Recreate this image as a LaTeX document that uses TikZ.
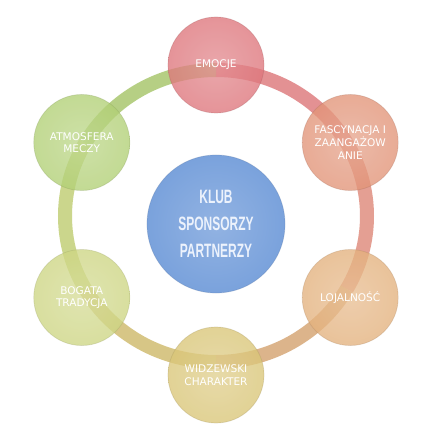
\documentclass[tikz,border=0pt]{standalone}
\usepackage{fontspec}
\newfontfamily\labelfont{DejaVu Sans}
\newfontfamily\centerfont[FakeStretch=0.62]{Liberation Sans}
\usepackage{tikz}
\usetikzlibrary{calc}
\definecolor{emocje}{RGB}{222,118,124}
\definecolor{fascyn}{RGB}{226,148,120}
\definecolor{lojal}{RGB}{228,178,126}
\definecolor{widzew}{RGB}{218,198,120}
\definecolor{bogata}{RGB}{206,214,132}
\definecolor{atmos}{RGB}{178,208,118}
\definecolor{klub}{RGB}{122,162,220}
\definecolor{ringA}{RGB}{220,118,120}
\definecolor{ringB}{RGB}{222,136,120}
\definecolor{ringC}{RGB}{212,162,110}
\definecolor{ringD}{RGB}{206,184,104}
\definecolor{ringE}{RGB}{190,204,112}
\definecolor{ringF}{RGB}{164,196,102}
\tikzset{main node/.style={circle,draw=#1!75!black,draw opacity=0.3,shading=radial,inner color=#1!82!white,outer color=#1,fill opacity=0.78,text opacity=1,minimum size=1.92cm,inner sep=0pt,align=center,text=white,font=\labelfont\fontsize{6}{7.2}\selectfont},
  ring/.style={line width=0.28cm,draw opacity=0.8},}

\begin{document}
\begin{tikzpicture}
    \useasboundingbox[fill=white] (-4.32,-4.26) rectangle (4.24,4.40);

    % ring
    \foreach \a/\c in {90/ringA,30/ringB,-30/ringC,-90/ringD,-150/ringE,150/ringF}
        \draw[ring,draw=\c] (0,0.08) ++(\a:3.02cm and 2.92cm) arc[start angle=\a,end angle=\a-60,x radius=3.02cm,y radius=2.92cm];

    \node[main node=klub,fill opacity=1,minimum size=2.76cm,text={rgb,255:red,236;green,242;blue,252},font=\centerfont\bfseries\fontsize{11}{15.3}\selectfont] (0) at (0,-0.08) {KLUB\\SPONSORZY\\PARTNERZY};
    \node[main node=emocje] (1) at (90:3.1) {EMOCJE};
    \node[main node=fascyn] (2) at (30:3.1) {FASCYNACJA I\\ZAANGAŻOW\\ANIE};
    \node[main node=lojal] (3) at (-30:3.1) {LOJALNOŚĆ};
    \node[main node=widzew] (4) at (-90:3.1) {WIDZEWSKI\\CHARAKTER};
    \node[main node=bogata] (5) at (-150:3.1) {BOGATA\\TRADYCJA};
    \node[main node=atmos] (6) at (150:3.1) {ATMOSFERA\\MECZY};
\end{tikzpicture}
\end{document}
